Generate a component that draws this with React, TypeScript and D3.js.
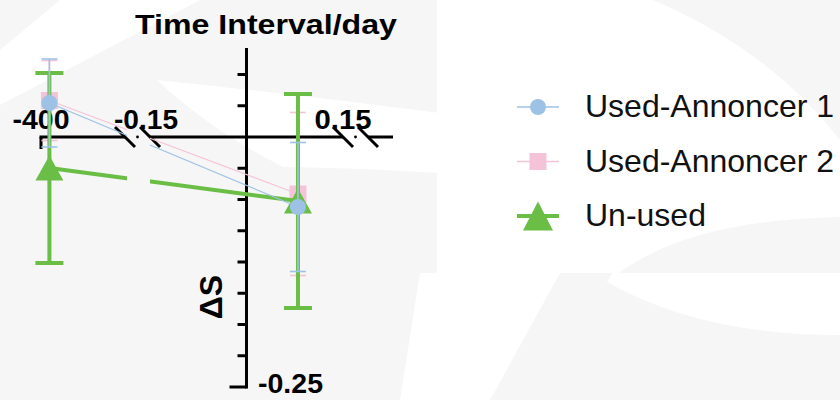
import React from 'react';
import * as d3 from 'd3';

// time interval (days) of the two measurement groups
const days = [-390, 0.08];
const seriesNames = ['Used-Annoncer 1', 'Used-Annoncer 2', 'Un-used'];
const used1Mean = [0.034, -0.07];
const used1Err = [0.044, 0.0645];
const used2Mean = [0.0365, -0.057];
const used2Err = [0.04, 0.0815];
const unusedMean = [-0.031, -0.064];
const unusedErr = [0.095, 0.107];
const xTickValues = [-400, -0.15, 0.15];
const xTickLabels = ['-400', '-0.15', '0.15'];
const yMinorTicks = [0.0625, 0.03125, -0.03125, -0.0625, -0.09375, -0.125, -0.15625, -0.1875, -0.21875];
const yMajorTick = -0.25;
const yMajorLabel = '-0.25';

const W = 840, H = 400;
const font = 'Liberation Sans, Arial, sans-serif';

// broken x axis: far segment, near segment, tail stub
const xFar = d3.scaleLinear().domain([-400, -300]).range([41, 125]);
const xNear = d3.scaleLinear().domain([-0.15, 0.15]).range([150, 343]);
const tail = [368, 393];
const xPos = (v: number) => (v <= -1 ? xFar(v) : xNear(v));
const y = d3.scaleLinear().domain([-0.25, 0]).range([387, 137]);
const yTop = 0.089;
const axisX = xNear(0);
const axisY = y(0);

const series = [
  { name: seriesNames[1], mean: used2Mean, err: used2Err, color: '#f4c3d8', lw: 1.2, barW: 1.6, cap: 16, shape: 'square' },
  { name: seriesNames[2], mean: unusedMean, err: unusedErr, color: '#6abd45', lw: 4, barW: 4, cap: 28, shape: 'triangle' },
  { name: seriesNames[0], mean: used1Mean, err: used1Err, color: '#9ec2e6', lw: 1.2, barW: 1.6, cap: 16, shape: 'circle' },
];
const legendOrder = [2, 0, 1];

function Marker({ shape, x, y: cy, color, big }: any) {
  if (shape === 'circle') return <circle cx={x} cy={cy} r={8} fill={color} />;
  if (shape === 'square') {
    const s = 17;
    return <rect x={x - s / 2} y={cy - s / 2} width={s} height={s} fill={color} />;
  }
  const w = big ? 30 : 28, h = big ? 29 : 25;
  return <path d={`M${x},${cy - h / 2}L${x + w / 2},${cy + h / 2}L${x - w / 2},${cy + h / 2}Z`} fill={color} />;
}

function Breaks({ a, b }: { a: number; b: number }) {
  return (
    <g stroke="#000" strokeWidth={3}>
      <line x1={a - 10} y1={axisY - 10} x2={a + 10} y2={axisY + 10} />
      <line x1={b - 10} y1={axisY - 10} x2={b + 10} y2={axisY + 10} />
      <circle cx={(a + b) / 2} cy={axisY} r={1.4} fill="#000" stroke="none" />
    </g>
  );
}

export default function App() {
  const line = d3.line();
  return (
    <svg width={W} height={H} style={{ position: 'absolute', left: 0, top: 0, display: 'block' }}>
      <defs>
        <clipPath id="gap">
          <rect x={0} y={0} width={127} height={H} />
          <rect x={150} y={0} width={W - 150} height={H} />
        </clipPath>
      </defs>
      {/* faint watermark background */}
      <rect width={W} height={H} fill="#f6f6f6" />
      <path d="M60,0H200L0,105V50Z" fill="#fff" />
      <path d="M157,80Q300,95 440,113V173Q360,168 283,167Q210,130 157,80Z" fill="#fff" />
      <path d="M437,0H840V273H437Z" fill="#fff" />
      <path d="M653,0Q770,50 840,140V0Z" fill="#f6f6f6" />
      <path d="M607,282Q680,220 840,217V273H612Z" fill="#f6f6f6" />
      <path d="M607,282Q700,335 840,335V273H612Z" fill="#fff" />
      <path d="M420,273H560L490,400H400Z" fill="#fff" />

      {/* axes */}
      <g stroke="#000" strokeWidth={3} fill="none">
        <line x1={xFar.range()[0] - 1.5} y1={axisY} x2={xFar.range()[1]} y2={axisY} />
        <line x1={xNear.range()[0]} y1={axisY} x2={xNear.range()[1]} y2={axisY} />
        <line x1={tail[0]} y1={axisY} x2={tail[1]} y2={axisY} />
        <line x1={xFar(xTickValues[0])} y1={axisY} x2={xFar(xTickValues[0])} y2={axisY + 12} />
        <line x1={axisX} y1={y(yTop)} x2={axisX} y2={y(yMajorTick) + 1.5} />
        {yMinorTicks.map((t) => (
          <line key={t} x1={axisX - 9} y1={y(t)} x2={axisX} y2={y(t)} />
        ))}
        <line x1={axisX - 17} y1={y(yMajorTick)} x2={axisX} y2={y(yMajorTick)} />
      </g>
      <Breaks a={xFar.range()[1]} b={xNear.range()[0]} />
      <Breaks a={xNear.range()[1]} b={tail[0]} />

      <g fontFamily={font} fontWeight="bold" fontSize={27} fill="#000" textAnchor="middle">
        {xTickValues.map((v, i) => (
          <text key={v} x={xPos(v) + (i === 1 ? -4 : 0)} y={axisY - 8} textLength={i === 0 ? 57 : i === 1 ? 64 : 57} lengthAdjust="spacingAndGlyphs">
            {xTickLabels[i]}
          </text>
        ))}
        <text x={258} y={393} textAnchor="start" textLength={65} lengthAdjust="spacingAndGlyphs">{yMajorLabel}</text>
      </g>
      <text x={135} y={34} fontFamily={font} fontWeight="bold" fontSize={28} textLength={262} lengthAdjust="spacingAndGlyphs">
        Time Interval/day
      </text>
      <text
        transform={`translate(211,297) rotate(-90)`}
        fontFamily={font}
        fontWeight="bold"
        fontSize={32}
        textAnchor="middle"
        dominantBaseline="central"
      >
        ΔS
      </text>

      {/* series */}
      {series.map((s) => {
        const pts = days.map((d, i) => [xPos(d), y(s.mean[i])] as [number, number]);
        return (
          <g key={s.name}>
            <path d={line(pts) || ''} stroke={s.color} strokeWidth={s.lw} fill="none" clipPath="url(#gap)" />
            <g stroke={s.color} strokeWidth={s.barW}>
              {days.map((d, i) => {
                const cx = xPos(d);
                const t = y(s.mean[i] + s.err[i]);
                const b = y(s.mean[i] - s.err[i]);
                return (
                  <g key={i}>
                    <line x1={cx} y1={t} x2={cx} y2={b} />
                    <line x1={cx - s.cap / 2} y1={t} x2={cx + s.cap / 2} y2={t} />
                    <line x1={cx - s.cap / 2} y1={b} x2={cx + s.cap / 2} y2={b} />
                  </g>
                );
              })}
            </g>
            {pts.map((p, i) => (
              <Marker key={i} shape={s.shape} x={p[0]} y={p[1]} color={s.color} />
            ))}
          </g>
        );
      })}

      {/* legend */}
      {legendOrder.map((k, r) => {
        const s = series[k];
        const ly = 107 + r * 54.5;
        return (
          <g key={s.name}>
            <line x1={517} y1={ly} x2={559} y2={ly} stroke={s.color} strokeWidth={s.shape === 'triangle' ? 4 : 1.5} />
            <Marker shape={s.shape} x={538} y={ly} color={s.color} big />
            <text x={585} y={ly + 10} fontFamily={font} fontSize={32} fill="#111">
              {s.name}
            </text>
          </g>
        );
      })}
    </svg>
  );
}
